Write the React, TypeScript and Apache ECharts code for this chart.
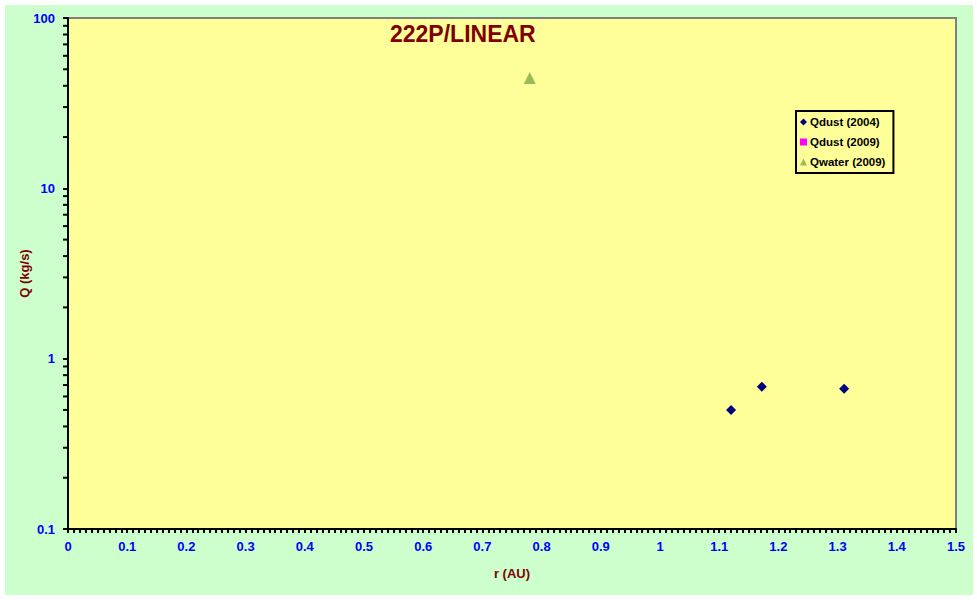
import React, { useEffect, useRef } from "react";
import * as echarts from "echarts";

const titleText = "222P/LINEAR";
const xName = "r (AU)";
const yName = "Q (kg/s)";

const qdust2004: [number, number][] = [
  [1.12, 0.5],
  [1.172, 0.685],
  [1.311, 0.665],
];
const qdust2009: [number, number][] = [];
const qwater2009: [number, number][] = [[0.78, 44.5]];

const yMinorTicks = [
  0.2, 0.3, 0.4, 0.5, 0.6, 0.7, 0.8, 0.9,
  2, 3, 4, 5, 6, 7, 8, 9,
  20, 30, 40, 50, 60, 70, 80, 90,
];

export default function App() {
  const ref = useRef<HTMLDivElement>(null);
  useEffect(() => {
    document.body.style.margin = "0";
    const chart = echarts.init(ref.current!, undefined, { renderer: "svg" });
    const font = "Arial, 'Liberation Sans', sans-serif";
    chart.setOption({
      animation: false,
      backgroundColor: "#ffffff",
      graphic: [
        {
          type: "rect",
          z: -10,
          silent: true,
          shape: { x: 5, y: 5, width: 968, height: 590 },
          style: { fill: "#CCFFCC" },
        },
      ],
      title: {
        text: titleText,
        left: 390,
        top: 22,
        padding: 0,
        textStyle: { color: "#800000", fontSize: 23, fontWeight: "bold", fontFamily: font },
      },
      legend: {
        orient: "vertical",
        left: 796,
        top: 111,
        padding: [4, 8, 4, 4],
        itemGap: 6,
        itemWidth: 7,
        itemHeight: 7,
        backgroundColor: "#FFFF99",
        borderColor: "#000",
        borderWidth: 2,
        data: ["Qdust (2004)", "Qdust (2009)", "Qwater (2009)"],
        textStyle: { color: "#000", fontSize: 11.5, fontWeight: "bold", fontFamily: font, lineHeight: 14, padding: [0, 0, 0, -2] },
      },
      grid: {
        left: 68,
        right: 21,
        top: 18,
        bottom: 71,
        show: true,
        backgroundColor: "#FFFF99",
        borderColor: "#808080",
        borderWidth: 2,
      },
      xAxis: {
        type: "value",
        min: 0,
        max: 1.5,
        interval: 0.1,
        name: xName,
        nameLocation: "middle",
        nameGap: 38,
        nameMoveOverlap: false,
        nameTextStyle: { color: "#800000", fontSize: 13, fontWeight: "bold", fontFamily: font },
        axisLine: { show: true, lineStyle: { color: "#000", width: 2 } },
        axisTick: { show: true, inside: false, length: 4, lineStyle: { color: "#000", width: 2 } },
        minorTick: { show: true, splitNumber: 10, length: 4, lineStyle: { color: "#000", width: 2 } },
        splitLine: { show: false },
        axisLabel: {
          color: "#0000FF",
          fontSize: 13,
          fontWeight: "bold",
          fontFamily: font,
          margin: 11,
          formatter: (v: number) => String(Math.round(v * 10) / 10),
        },
      },
      yAxis: {
        type: "log",
        logBase: 10,
        min: 0.1,
        max: 100,
        name: yName,
        nameLocation: "middle",
        nameRotate: 90,
        nameGap: 37,
        nameMoveOverlap: false,
        nameTextStyle: { color: "#800000", fontSize: 13, fontWeight: "bold", fontFamily: font },
        axisLine: { show: true, lineStyle: { color: "#000", width: 2 } },
        axisTick: { show: true, inside: false, length: 5, lineStyle: { color: "#000", width: 2 } },
        splitLine: { show: false },
        axisLabel: {
          color: "#0000FF",
          fontSize: 13,
          fontWeight: "bold",
          fontFamily: font,
          margin: 13,
          formatter: (v: number) => (v < 1 ? v.toFixed(1) : String(Math.round(v))),
        },
      },
      series: [
        {
          name: "Qdust (2004)",
          type: "scatter",
          symbol: "diamond",
          symbolSize: 10,
          itemStyle: { color: "#000080", opacity: 1 },
          data: qdust2004,
          z: 5,
        },
        {
          name: "Qdust (2009)",
          type: "scatter",
          symbol: "rect",
          symbolSize: 8,
          itemStyle: { color: "#FF00FF", opacity: 1 },
          data: qdust2009,
          z: 5,
        },
        {
          name: "Qwater (2009)",
          type: "scatter",
          symbol: "triangle",
          symbolSize: 12,
          itemStyle: { color: "#9BBB59", opacity: 1 },
          data: qwater2009,
          z: 5,
        },
        {
          name: "yMinor",
          type: "custom",
          silent: true,
          clip: false,
          z: 10,
          data: yMinorTicks.map((v) => [0, v]),
          encode: { x: 0, y: 1 },
          renderItem: (params: any, api: any) => {
            const p = api.coord([0, api.value(1)]);
            return {
              type: "line",
              shape: { x1: p[0] - 5, y1: p[1], x2: p[0], y2: p[1] },
              style: { stroke: "#000", lineWidth: 2 },
            };
          },
        },
      ],
    });
    return () => chart.dispose();
  }, []);
  return <div ref={ref} style={{ width: 977, height: 600 }} />;
}
